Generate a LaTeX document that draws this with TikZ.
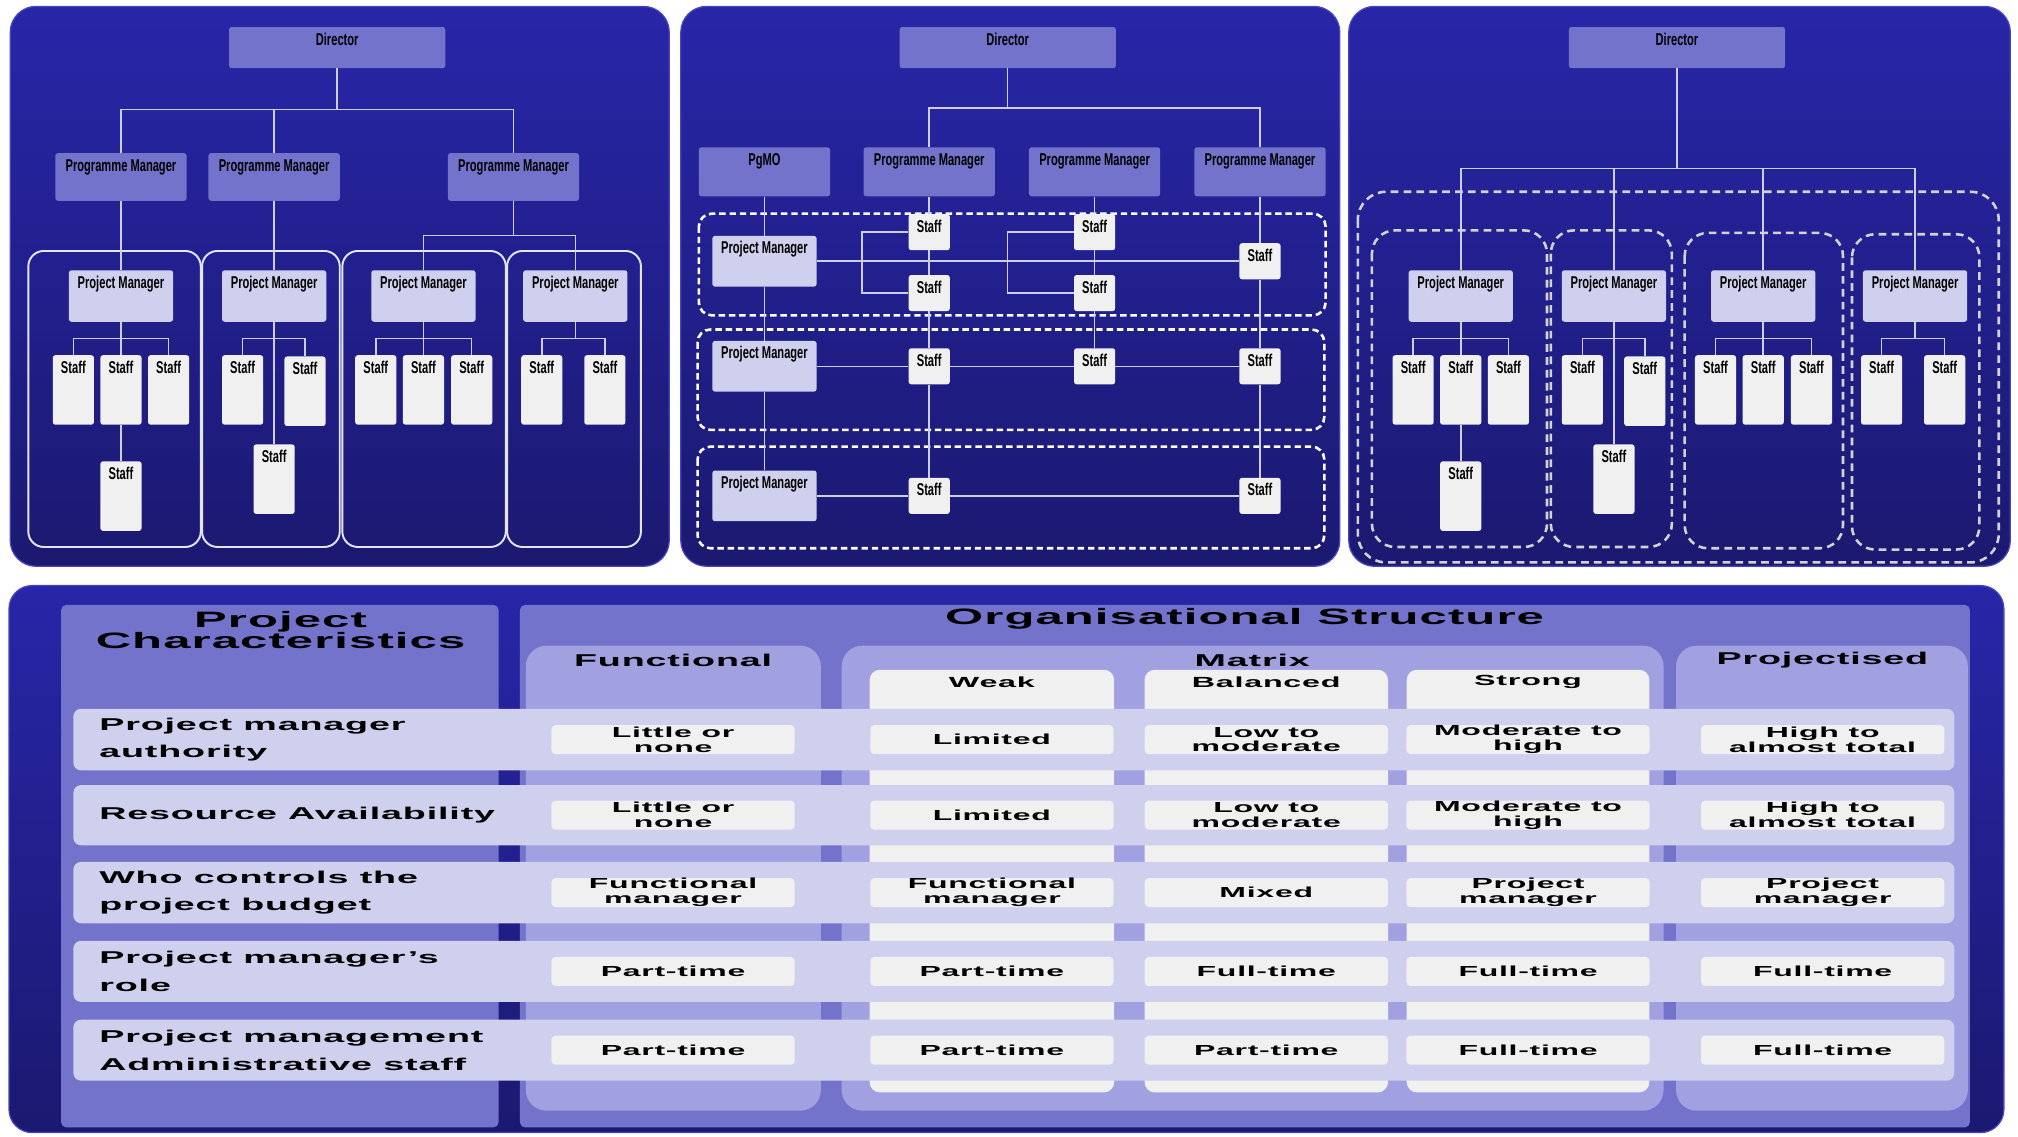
\documentclass[tikz,border=0pt]{standalone}
\usepackage{fontspec}
\setmainfont{Liberation Sans}
\newfontfamily\chartfont{Liberation Sans Bold}[FakeStretch=0.65]
\newfontfamily\tabfont{Liberation Sans Bold}[FakeStretch=2.2,LetterSpace=5]
\usepackage{tikz}
\usetikzlibrary{positioning}
\definecolor{panelhi}{RGB}{40,38,168}
\definecolor{panellow}{RGB}{27,25,112}
\definecolor{panelrim}{RGB}{70,68,190}
\definecolor{mgrfill}{RGB}{116,115,204}
\definecolor{pmfill}{RGB}{207,207,238}
\definecolor{stafffill}{RGB}{240,240,240}
\definecolor{linkcol}{RGB}{205,205,228}
\definecolor{zonegray}{RGB}{210,210,210}
\definecolor{colfill}{RGB}{161,160,225}

\begin{document}
\begin{tikzpicture}[x=1pt,y=-1pt,
    panel/.style={rounded corners=20pt, top color=panelhi, bottom color=panellow, draw=panelrim, line width=1pt},
    orgbox/.style={rounded corners=2pt, inner sep=0pt, text height=14pt, font=\chartfont\fontsize{13.3}{14}\selectfont},
    dirbox/.style={orgbox, fill=mgrfill, minimum width=168pt, text depth=18pt},
    prgbox/.style={orgbox, fill=mgrfill, minimum width=102pt, text depth=24pt},
    pmbox/.style={orgbox, fill=pmfill, minimum width=81pt, text depth=26pt},
    staffbox/.style={orgbox, fill=stafffill, minimum width=32pt, text depth=40pt},
    staffsq/.style={orgbox, fill=stafffill, minimum width=32pt, text depth=14pt},
    link/.style={draw=linkcol, line width=1.2pt},
    unitbox/.style={draw=white!90!blue, line width=1.5pt, rounded corners=12pt},
    teamzone/.style={draw=white, line width=2pt, dash pattern=on 5pt off 3pt, rounded corners=10pt},
    projzone/.style={draw=zonegray, line width=2pt, dash pattern=on 6pt off 4pt, rounded corners=22pt},
    band/.style={fill=pmfill, rounded corners=6pt},
    cell/.style={fill=stafffill, rounded corners=3pt, minimum width=189pt, minimum height=22.5pt, inner sep=0pt, align=center, font=\tabfont\fontsize{11.3}{11.5}\selectfont},
    rowlabel/.style={anchor=west, align=left, inner sep=0pt, font=\tabfont\fontsize{13.3}{21.5}\selectfont},
    colhead/.style={inner sep=0pt, font=\tabfont\fontsize{13.3}{14}\selectfont},
    subhead/.style={inner sep=0pt, font=\tabfont\fontsize{11.4}{12}\selectfont},
    tabhead/.style={inner sep=0pt, align=center, font=\tabfont\fontsize{17.3}{17}\selectfont}]
    \useasboundingbox (0,0) rectangle (1568,883);

    % Panels
    \path[panel] (8,5) rectangle (520,440);
    \path[panel] (529,5) rectangle (1041,440);
    \path[panel] (1048,5) rectangle (1562,440);

    % Functional: project units
    \draw[unitbox] (22,195) rectangle (156,425);
    \draw[unitbox] (157,195) rectangle (264,425);
    \draw[unitbox] (266,195) rectangle (393,425);
    \draw[unitbox] (394,195) rectangle (498,425);
    % Projectised: project zones
    \draw[projzone] (1055,149) rectangle (1553,437);
    \draw[projzone, rounded corners=18pt] (1066,179) rectangle (1202,425);
    \draw[projzone, rounded corners=18pt] (1205,179) rectangle (1299,425);
    \draw[projzone, rounded corners=18pt] (1309,181) rectangle (1432,426);
    \draw[projzone, rounded corners=18pt] (1439,182) rectangle (1538,427);
    % Matrix: project teams
    \draw[teamzone] (543,166) rectangle (1030,245);
    \draw[teamzone] (542,256) rectangle (1029,334);
    \draw[teamzone] (542,347) rectangle (1029,426);

    % Top level
    \node[dirbox] (dirA) at (262,37) {Director};
    \node[dirbox] (dirB) at (783,37) {Director};
    \node[dirbox] (dirC) at (1303,37) {Director};
    % Programme level
    \node[prgbox, text depth=23pt] (pmA1) at (94,137.5) {Programme Manager};
    \node[prgbox, text depth=23pt] (pmA2) at (213,137.5) {Programme Manager};
    \node[prgbox, text depth=23pt] (pmA3) at (399,137.5) {Programme Manager};
    \node[prgbox] (pgmo) at (594,133.5) {PgMO};
    \node[prgbox] (pmB1) at (722,133.5) {Programme Manager};
    \node[prgbox] (pmB2) at (850.5,133.5) {Programme Manager};
    \node[prgbox] (pmB3) at (979,133.5) {Programme Manager};

    % Project level (functional and projectised)
    \foreach \p/\dx in {A/0,C/1041}{
      \begin{scope}[xshift=\dx]
        \node[pmbox] (pj\p1) at (94,230) {Project Manager};
        \node[pmbox] (pj\p2) at (213,230) {Project Manager};
        \node[pmbox] (pj\p3) at (329,230) {Project Manager};
        \node[pmbox] (pj\p4) at (447,230) {Project Manager};
        \node[staffbox] (st\p1) at (57,303) {Staff};
        \node[staffbox] (st\p2) at (94,303) {Staff};
        \node[staffbox] (st\p3) at (131,303) {Staff};
        \node[staffbox] (st\p4) at (94,385.5) {Staff};
        \node[staffbox] (st\p5) at (188.5,303) {Staff};
        \node[staffbox] (st\p6) at (237,304) {Staff};
        \node[staffbox] (st\p7) at (213,372.3) {Staff};
        \node[staffbox] (st\p8) at (292,303) {Staff};
        \node[staffbox] (st\p9) at (329,303) {Staff};
        \node[staffbox] (st\p10) at (366.5,303) {Staff};
        \node[staffbox] (st\p11) at (421,303) {Staff};
        \node[staffbox] (st\p12) at (470,303) {Staff};
        \coordinate (t\p1) at (94,263);
        \coordinate (t\p2) at (213,263);
        \coordinate (t\p3) at (329,263);
        \coordinate (t\p4) at (447,263);
        \draw[link] (pj\p1) -- (st\p2) -- (st\p4);
        \draw[link] (st\p1) |- (t\p1) -| (st\p3);
        \draw[link] (pj\p2) -- (st\p7);
        \draw[link] (st\p5) |- (t\p2) -| (st\p6);
        \draw[link] (pj\p3) -- (st\p9);
        \draw[link] (st\p8) |- (t\p3) -| (st\p10);
        \draw[link] (pj\p4) -- (t\p4);
        \draw[link] (st\p11) |- (t\p4) -| (st\p12);
      \end{scope}
    }

    % Matrix: project managers and staff
    \node[pmbox, text depth=25.4pt] (pjB1) at (594,203) {Project Manager};
    \node[pmbox, text depth=25.4pt] (pjB2) at (594,284.6) {Project Manager};
    \node[pmbox, text depth=25.4pt] (pjB3) at (594,385.3) {Project Manager};
    \node[staffsq] (sa1) at (722,180.4) {Staff};
    \node[staffsq] (sa2) at (722,227.7) {Staff};
    \node[staffsq] (sa3) at (722,284.6) {Staff};
    \node[staffsq] (sa4) at (722,385.3) {Staff};
    \node[staffsq] (sb1) at (850.5,180.4) {Staff};
    \node[staffsq] (sb2) at (850.5,227.7) {Staff};
    \node[staffsq] (sb3) at (850.5,284.6) {Staff};
    \node[staffsq] (sc1) at (979,203) {Staff};
    \node[staffsq] (sc2) at (979,284.6) {Staff};
    \node[staffsq] (sc3) at (979,385.3) {Staff};

    % Edges
    \coordinate (jA) at (262,85);
    \coordinate (kA) at (399,183);
    \draw[link] (dirA) -- (jA);
    \draw[link] (pmA1) |- (jA) -| (pmA3);
    \draw[link] (pmA2) -- (pmA2 |- jA);
    \draw[link] (pmA1) -- (pjA1);
    \draw[link] (pmA2) -- (pjA2);
    \draw[link] (pmA3) -- (kA);
    \draw[link] (pjA3) |- (kA) -| (pjA4);

    \coordinate (jB) at (783,84);
    \draw[link] (dirB) -- (jB);
    \draw[link] (pmB1) |- (jB) -| (pmB3);
    \draw[link] (pgmo) -- (pjB1) -- (pjB2) -- (pjB3);
    \draw[link] (pmB1) -- (sa1) -- (sa2) -- (sa3) -- (sa4);
    \draw[link] (pmB2) -- (sb1) -- (sb2) -- (sb3);
    \draw[link] (pmB3) -- (sc1) -- (sc2) -- (sc3);
    \draw[link] (pjB1) -- (sc1);
    \draw[link] (pjB2) -- (sa3) -- (sb3) -- (sc2);
    \draw[link] (pjB3) -- (sa4) -- (sc3);
    \draw[link] (sa1.west) -- ++(-36,0) |- (sa2.west);
    \draw[link] (sb1.west) -- ++(-51.5,0) |- (sb2.west);

    \coordinate (jC) at (1303,131);
    \draw[link] (dirC) -- (jC);
    \draw[link] (pjC1) |- (jC) -| (pjC4);
    \draw[link] (pjC2) -- (pjC2 |- jC);
    \draw[link] (pjC3) -- (pjC3 |- jC);

    % Comparison table
    \path[panel, rounded corners=18pt] (7,455) rectangle (1557,880);
    \fill[mgrfill, rounded corners=4pt] (47.5,470) rectangle (387.4,876);
    \fill[mgrfill, rounded corners=4pt] (404,470) rectangle (1530.6,876);
    \fill[colfill, rounded corners=16pt] (408.6,501.7) rectangle (637.8,863);
    \fill[colfill, rounded corners=16pt] (654,501.7) rectangle (1292.6,863);
    \fill[colfill, rounded corners=16pt] (1302.3,501.7) rectangle (1529,863);
    \fill[stafffill, rounded corners=8pt] (675.7,520.4) rectangle (865.7,848.8);
    \fill[stafffill, rounded corners=8pt] (889.3,520.4) rectangle (1078.5,848.8);
    \fill[stafffill, rounded corners=8pt] (1093,520.4) rectangle (1281.6,848.8);
    \foreach \t/\b in {550.7/598.6, 610/656.8, 669.7/717.4, 731/778.5, 792.3/839.7}
      \fill[band] (57,\t) rectangle (1518.6,\b);

    % Headers
    \node[tabhead] (pchar) at (218,489.5) {Project\\Characteristics};
    \node[tabhead] (orgs) at (967,481) {Organisational Structure};
    \node[colhead] (hfun) at (523,513) {Functional};
    \node[colhead] (hmat) at (973,513) {Matrix};
    \node[colhead] (hproj) at (1416,513) {Projectised};
    \node[subhead] (hweak) at (770.7,530) {Weak};
    \node[subhead] (hbal) at (983.9,530) {Balanced};
    \node[subhead] (hstr) at (1187.3,530) {Strong};

    % Rows
    \foreach \r/\y/\lab/\fu/\we/\ba/\st/\pr in {
      1/574.7/{Project manager\\authority}/{Little or\\none}/Limited/{Low to\\moderate}/{Moderate to\\high}/{High to\\almost total},
      2/633.4/{Resource Availability}/{Little or\\none}/Limited/{Low to\\moderate}/{Moderate to\\high}/{High to\\almost total},
      3/693.6/{Who controls the\\project budget}/{Functional\\manager}/{Functional\\manager}/Mixed/{Project\\manager}/{Project\\manager},
      4/754.8/{Project manager’s\\role}/Part-time/Part-time/Full-time/Full-time/Full-time,
      5/816/{Project management\\Administrative staff}/Part-time/Part-time/Part-time/Full-time/Full-time}{
      \node[rowlabel] (lab\r) at (77,\y) {\lab};
      \node[cell] (fun\r) at (523,\y) {\fu};
      \node[cell] (weak\r) at (770.7,\y) {\we};
      \node[cell] (bal\r) at (983.9,\y) {\ba};
      \node[cell] (str\r) at (1187.3,\y) {\st};
      \node[cell] (proj\r) at (1416.2,\y) {\pr};
    }
\end{tikzpicture}
\end{document}
